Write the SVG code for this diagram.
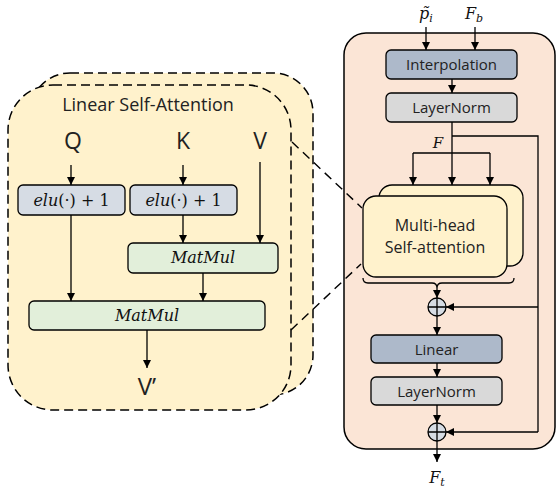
<svg xmlns="http://www.w3.org/2000/svg" width="556" height="496" viewBox="0 0 556 496">
  <defs>
    <marker id="arr" viewBox="0 0 10 10" refX="10" refY="5" markerWidth="8" markerHeight="8" markerUnits="userSpaceOnUse" orient="auto">
      <path d="M0,0 L10,5 L0,10 Z" fill="#000"/>
    </marker>
    <style>
      .box { stroke: #000; stroke-width: 1.3; }
      .dark { fill: #adb9ca; }
      .norm { fill: #d9d9d9; }
      .elu { fill: #d6dce4; }
      .mm { fill: #e2efda; }
      .yel { fill: #fff2cc; }
      .panel { fill: #fbe5d6; stroke: #000; stroke-width: 1.5; }
      .dash { fill: #fff2cc; stroke: #000; stroke-width: 1.5; stroke-dasharray: 9 5; }
      .line { fill: none; stroke: #000; stroke-width: 1.3; }
      .arrow { fill: none; stroke: #000; stroke-width: 1.3; marker-end: url(#arr); }
      .dline { fill: none; stroke: #000; stroke-width: 1.4; stroke-dasharray: 9 6; }
      .sans { font-family: "Open Sans", "Liberation Sans", sans-serif; fill: #222; }
      .math { font-family: "DejaVu Serif", "Liberation Serif", serif; font-style: italic; fill: #111; }
      .up { font-style: normal; }
    </style>
  </defs>

  <!-- linear self-attention detail (stacked dashed panels) -->
  <g id="lsa-panel">
    <rect class="dash" x="30" y="73" width="283" height="322" rx="40"/>
    <rect class="dash" x="8" y="85" width="283" height="325" rx="45"/>
    <text class="sans" x="148" y="111" font-size="18" text-anchor="middle">Linear Self-Attention</text>
  </g>

  <g id="q-label"><text class="sans" x="73" y="149" font-size="23" text-anchor="middle">Q</text></g>
  <g id="k-label"><text class="sans" x="183" y="149" font-size="23" text-anchor="middle">K</text></g>
  <g id="v-label"><text class="sans" x="260" y="149" font-size="23" text-anchor="middle">V</text></g>

  <g id="elu-q">
    <rect class="box elu" x="18" y="185" width="107" height="30" rx="5"/>
    <text class="math" x="71.5" y="206" font-size="16" text-anchor="middle">elu<tspan class="up">(·) + 1</tspan></text>
  </g>
  <g id="elu-k">
    <rect class="box elu" x="130" y="185" width="107" height="30" rx="5"/>
    <text class="math" x="183.5" y="206" font-size="16" text-anchor="middle">elu<tspan class="up">(·) + 1</tspan></text>
  </g>
  <g id="matmul-kv">
    <rect class="box mm" x="128" y="243" width="150" height="30" rx="5"/>
    <text class="math" x="203" y="263" font-size="16" text-anchor="middle">MatMul</text>
  </g>
  <g id="matmul-out">
    <rect class="box mm" x="29" y="301" width="236" height="29" rx="5"/>
    <text class="math" x="147" y="321" font-size="16" text-anchor="middle">MatMul</text>
  </g>
  <g id="v-out"><text class="sans" x="147" y="395" font-size="24" text-anchor="middle">V’</text></g>

  <!-- transformer block -->
  <g id="block-panel">
    <rect class="panel" x="344" y="33" width="211" height="416" rx="22"/>
  </g>
  <g id="p-label"><text class="math" x="426" y="19" font-size="16" text-anchor="middle">p̃<tspan font-size="11" dy="3">i</tspan></text></g>
  <g id="fb-label"><text class="math" x="474" y="19" font-size="16" text-anchor="middle">F<tspan font-size="11" dy="3">b</tspan></text></g>
  <g id="interp">
    <rect class="box dark" x="386" y="50" width="131" height="29" rx="5"/>
    <text class="sans" x="451.5" y="70" font-size="15" text-anchor="middle">Interpolation</text>
  </g>
  <g id="norm1">
    <rect class="box norm" x="386" y="93" width="131" height="29" rx="5"/>
    <text class="sans" x="451.5" y="113" font-size="15" text-anchor="middle">LayerNorm</text>
  </g>
  <g id="f-label"><text class="math" x="438" y="148" font-size="15" text-anchor="middle">F</text></g>
  <g id="mhsa">
    <rect class="box yel" x="379" y="185" width="144" height="81" rx="13"/>
    <rect class="box yel" x="363" y="196" width="144" height="81" rx="13"/>
    <text class="sans" x="435" y="231" font-size="16" text-anchor="middle">Multi-head</text>
    <text class="sans" x="435" y="253" font-size="16" text-anchor="middle">Self-attention</text>
    <path class="line" d="M363,278 q0,5 5,5 L432,283 q5,0 5,5 q0,-5 5,-5 L509,283 q5,0 5,-5"/>
  </g>
  <g id="add1">
    <circle cx="437" cy="307" r="9" class="box elu"/>
    <path class="line" d="M428,307 H446 M437,298 V316"/>
  </g>
  <g id="linear">
    <rect class="box dark" x="371" y="335" width="131" height="28" rx="5"/>
    <text class="sans" x="436.5" y="355" font-size="15" text-anchor="middle">Linear</text>
  </g>
  <g id="norm2">
    <rect class="box norm" x="371" y="377" width="131" height="28" rx="5"/>
    <text class="sans" x="436.5" y="397" font-size="15" text-anchor="middle">LayerNorm</text>
  </g>
  <g id="add2">
    <circle cx="437" cy="432" r="9" class="box elu"/>
    <path class="line" d="M428,432 H446 M437,423 V441"/>
  </g>
  <g id="ft-label"><text class="math" x="437" y="483" font-size="16" text-anchor="middle">F<tspan font-size="11" dy="3">t</tspan></text></g>

  <g id="connectors">
    <!-- left detail -->
    <path class="arrow" d="M71,165 V185"/>
    <path class="arrow" d="M183,165 V185"/>
    <path class="arrow" d="M260,162 V243"/>
    <path class="arrow" d="M183,215 V243"/>
    <path class="arrow" d="M71,215 V301"/>
    <path class="arrow" d="M203,273 V301"/>
    <path class="arrow" d="M147,330 V368"/>
    <!-- zoom guides -->
    <path class="dline" d="M292,142 L362,208"/>
    <path class="dline" d="M291,330 L361,264"/>
    <!-- right block -->
    <path class="arrow" d="M426,27 V50"/>
    <path class="arrow" d="M475,27 V50"/>
    <path class="arrow" d="M452,79 V93"/>
    <path class="arrow" d="M452,122 V185"/>
    <path class="line" d="M413,153 H490"/>
    <path class="arrow" d="M413,153 V185"/>
    <path class="arrow" d="M490,153 V185"/>
    <path class="line" d="M452,136 H538 V432"/>
    <path class="arrow" d="M538,307 H446"/>
    <path class="arrow" d="M538,432 H446"/>
    <path class="arrow" d="M437,288 V298"/>
    <path class="arrow" d="M437,316 V335"/>
    <path class="arrow" d="M437,363 V377"/>
    <path class="arrow" d="M437,405 V423"/>
    <path class="arrow" d="M437,441 V462"/>
  </g>
</svg>
